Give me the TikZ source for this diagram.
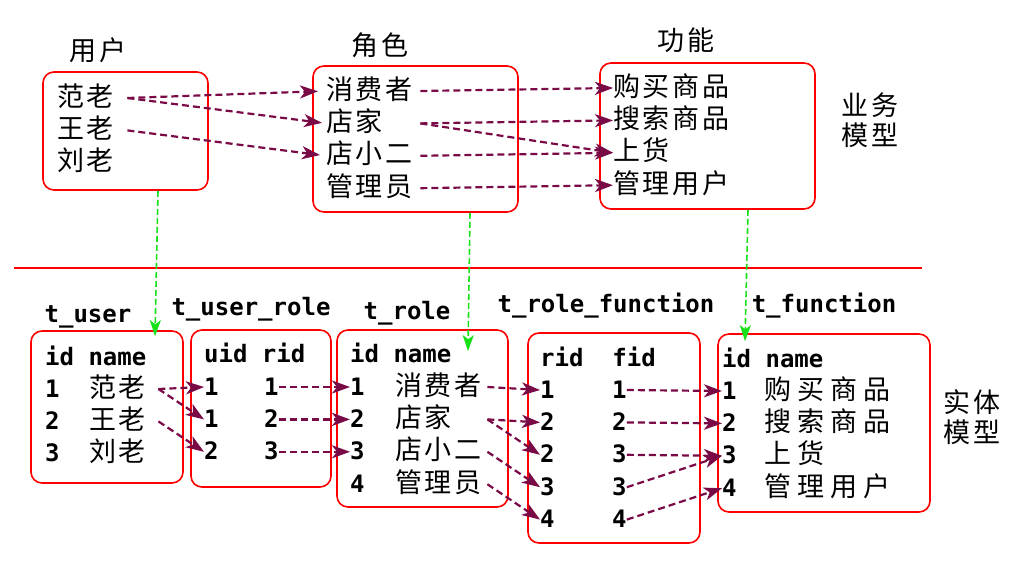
\documentclass[tikz,border=0pt]{standalone}
\usepackage{fontspec}
\newfontfamily\cjkfont[LetterSpace=10]{Noto Sans CJK SC}
\newfontfamily\cjkwide[LetterSpace=22]{Noto Sans CJK SC}
\newfontfamily\monofont{DejaVu Sans Mono}
\usetikzlibrary{chains,scopes,arrows.meta}
\definecolor{linkcol}{RGB}{122,10,70}
\definecolor{mapcol}{RGB}{25,225,25}

\begin{document}
\begin{tikzpicture}[x=1pt,y=-1pt,node distance=4pt,
% one line of a box or a table
cell/.style={inner sep=0pt,text height=22pt,text depth=6pt},
cn/.style={cell,font=\cjkfont\fontsize{27}{30}\selectfont,align=left},
cw/.style={cell,font=\cjkwide\fontsize{27}{30}\selectfont,align=left},
mn/.style={cell,font=\monofont\bfseries\fontsize{24}{28}\selectfont},
% titles
title/.style={inner sep=0pt,font=\cjkfont\fontsize{27}{30}\selectfont,align=left},
tname/.style={inner sep=0pt,anchor=base,font=\monofont\bfseries\fontsize{24}{28}\selectfont},
head/.style={inner sep=0pt,anchor=base west,font=\monofont\bfseries\fontsize{24}{28}\selectfont},
% the red frames
box/.style={draw=red,line width=1.6pt,rounded corners=11pt},
% connectors
link/.style={-{Stealth[length=18pt,width=13pt,inset=5pt]},draw=linkcol,line width=2.2pt,dash pattern=on 7pt off 4pt},
map/.style={-{Stealth[length=16pt,width=11pt,inset=4pt]},draw=mapcol,line width=1.6pt,dash pattern=on 6pt off 3pt}]

\useasboundingbox (0,0) rectangle (1024,570);

%Business model
\node (ubox) [box,minimum width=165pt,minimum height=118pt] at (125.5,131) {};
\node (rbox) [box,minimum width=205pt,minimum height=146pt] at (415.5,139) {};
\node (fbox) [box,minimum width=215pt,minimum height=146pt] at (707.5,136) {};
\node (ut) [title] at (98,50) {用户};
\node (rt) [title] at (380,45) {角色};
\node (ft) [title] at (686,40) {功能};
\node (bm) [title] at (870,120) {业务\\模型};

{ [start chain=users going below]
\node (u1) [cn,text width=70pt,on chain,at={(57,98)},anchor=west] {范老};
\node (u2) [cn,text width=70pt,on chain] {王老};
\node (u3) [cn,text width=70pt,on chain] {刘老};
}
{ [start chain=roles going below]
\node (r1) [cn,text width=94pt,on chain,at={(326,91)},anchor=west] {消费者};
\node (r2) [cn,text width=94pt,on chain] {店家};
\node (r3) [cn,text width=94pt,on chain] {店小二};
\node (r4) [cn,text width=94pt,on chain] {管理员};
}
{ [start chain=funcs going below]
\node (f1) [cn,text width=130pt,on chain,at={(613,88)},anchor=west] {购买商品};
\node (f2) [cn,text width=130pt,on chain] {搜索商品};
\node (f3) [cn,text width=130pt,on chain] {上货};
\node (f4) [cn,text width=130pt,on chain] {管理用户};
}

\draw[red,line width=1.6pt] (14,268) -- (922,268);

%Entity model
\node (tubox) [box,minimum width=152pt,minimum height=152pt] at (107,407) {};
\node (tubbox) [box,minimum width=140pt,minimum height=157pt] at (261,408.5) {};
\node (trbox) [box,minimum width=171pt,minimum height=177pt] at (422.5,418.5) {};
\node (trfbox) [box,minimum width=172pt,minimum height=210pt] at (614,438) {};
\node (tfbox) [box,minimum width=212pt,minimum height=178pt] at (824,423) {};
\node (tut) [tname] at (88,322) {t\_user};
\node (turt) [tname] at (251,315) {t\_user\_role};
\node (trt) [tname] at (407,319) {t\_role};
\node (trft) [tname] at (606,312) {t\_role\_function};
\node (tft) [tname] at (824,312) {t\_function};
\node (em) [title] at (972,417) {实体\\模型};

% t_user
\node (ah) [head] at (45,365) {id name};
{ [start chain=tuid going below]
\node (a1) [mn,on chain,at={(45,389)},anchor=west] {1};
\node (a2) [mn,on chain] {2};
\node (a3) [mn,on chain] {3};
}
{ [start chain=tuname going below]
\node (an1) [cn,text width=69pt,on chain,at={(89,389)},anchor=west] {范老};
\node (an2) [cn,text width=69pt,on chain] {王老};
\node (an3) [cn,text width=69pt,on chain] {刘老};
}
% t_user_role
\node (bh) [head] at (204,362) {uid rid};
{ [start chain=turu going below]
\node (bu1) [mn,on chain,at={(204,387)},anchor=west] {1};
\node (bu2) [mn,on chain] {1};
\node (bu3) [mn,on chain] {2};
}
{ [start chain=turr going below]
\node (br1) [mn,on chain,at={(264,387)},anchor=west] {1};
\node (br2) [mn,on chain] {2};
\node (br3) [mn,on chain] {3};
}
% t_role
\node (ch) [head] at (350,362) {id name};
{ [start chain=trid going below]
\node (ci1) [mn,on chain,at={(350,387)},anchor=west] {1};
\node (ci2) [mn,on chain] {2};
\node (ci3) [mn,on chain] {3};
\node (ci4) [mn,on chain] {4};
}
{ [start chain=trname going below]
\node (cn1) [cn,text width=92pt,on chain,at={(395,387)},anchor=west] {消费者};
\node (cn2) [cn,text width=92pt,on chain] {店家};
\node (cn3) [cn,text width=92pt,on chain] {店小二};
\node (cn4) [cn,text width=92pt,on chain] {管理员};
}
% t_role_function
\node (dh) [head] at (540,366) {rid\ \ fid};
{ [start chain=trfr going below]
\node (dr1) [mn,on chain,at={(540,390)},anchor=west] {1};
\node (dr2) [mn,on chain] {2};
\node (dr3) [mn,on chain] {2};
\node (dr4) [mn,on chain] {3};
\node (dr5) [mn,on chain] {4};
}
{ [start chain=trff going below]
\node (df1) [mn,on chain,at={(612,390)},anchor=west] {1};
\node (df2) [mn,on chain] {2};
\node (df3) [mn,on chain] {3};
\node (df4) [mn,on chain] {3};
\node (df5) [mn,on chain] {4};
}
% t_function
\node (eh) [head] at (722,367) {id name};
{ [start chain=tfid going below]
\node (ei1) [mn,on chain,at={(722,391)},anchor=west] {1};
\node (ei2) [mn,on chain] {2};
\node (ei3) [mn,on chain] {3};
\node (ei4) [mn,on chain] {4};
}
{ [start chain=tfname going below]
\node (en1) [cw,text width=140pt,on chain,at={(764,391)},anchor=west] {购买商品};
\node (en2) [cw,text width=140pt,on chain] {搜索商品};
\node (en3) [cw,text width=140pt,on chain] {上货};
\node (en4) [cw,text width=140pt,on chain] {管理用户};
}

% business links
\draw[link,shorten >=8pt] (u1.east) -- (r1.west);
\draw[link,shorten >=4pt] (u1.east) -- (r2.west);
\draw[link,shorten >=6pt] (u2.east) -- (r3.west);
\draw[link] (r1.east) -- (f1.west);
\draw[link] (r2.east) -- (f2.west);
\draw[link] (r2.east) -- (f3.west);
\draw[link] (r3.east) -- (f3.west);
\draw[link] (r4.east) -- (f4.west);

% business model to entity model
\draw[map] ([xshift=32.5pt]ubox.south) -- ([xshift=48pt,yshift=-6pt]tubox.north);
\draw[map] ([xshift=54.5pt]rbox.south) -- ([xshift=45.5pt,yshift=-22pt]trbox.north);
\draw[map] ([xshift=40.5pt]fbox.south) -- ([xshift=-79pt,yshift=-8pt]tfbox.north);

% table links
\draw[link] (an1.east) -- (bu1.west);
\draw[link] (an1.east) -- (bu2.west);
\draw[link] (an2.east) -- (bu3.west);
\draw[link] (br1.east) -- (ci1.west);
\draw[link] (br2.east) -- (ci2.west);
\draw[link] (br3.east) -- (ci3.west);
\draw[link] (cn1.east) -- (dr1.west);
\draw[link] (cn2.east) -- (dr2.west);
\draw[link] (cn2.east) -- (dr3.west);
\draw[link] (cn3.east) -- (dr4.west);
\draw[link] (cn4.east) -- (dr5.west);
\draw[link] (df1.east) -- (ei1.west);
\draw[link] (df2.east) -- (ei2.west);
\draw[link] (df3.east) -- (ei3.west);
\draw[link] (df4.east) -- (ei3.west);
\draw[link] (df5.east) -- (ei4.west);

\end{tikzpicture}
\end{document}
